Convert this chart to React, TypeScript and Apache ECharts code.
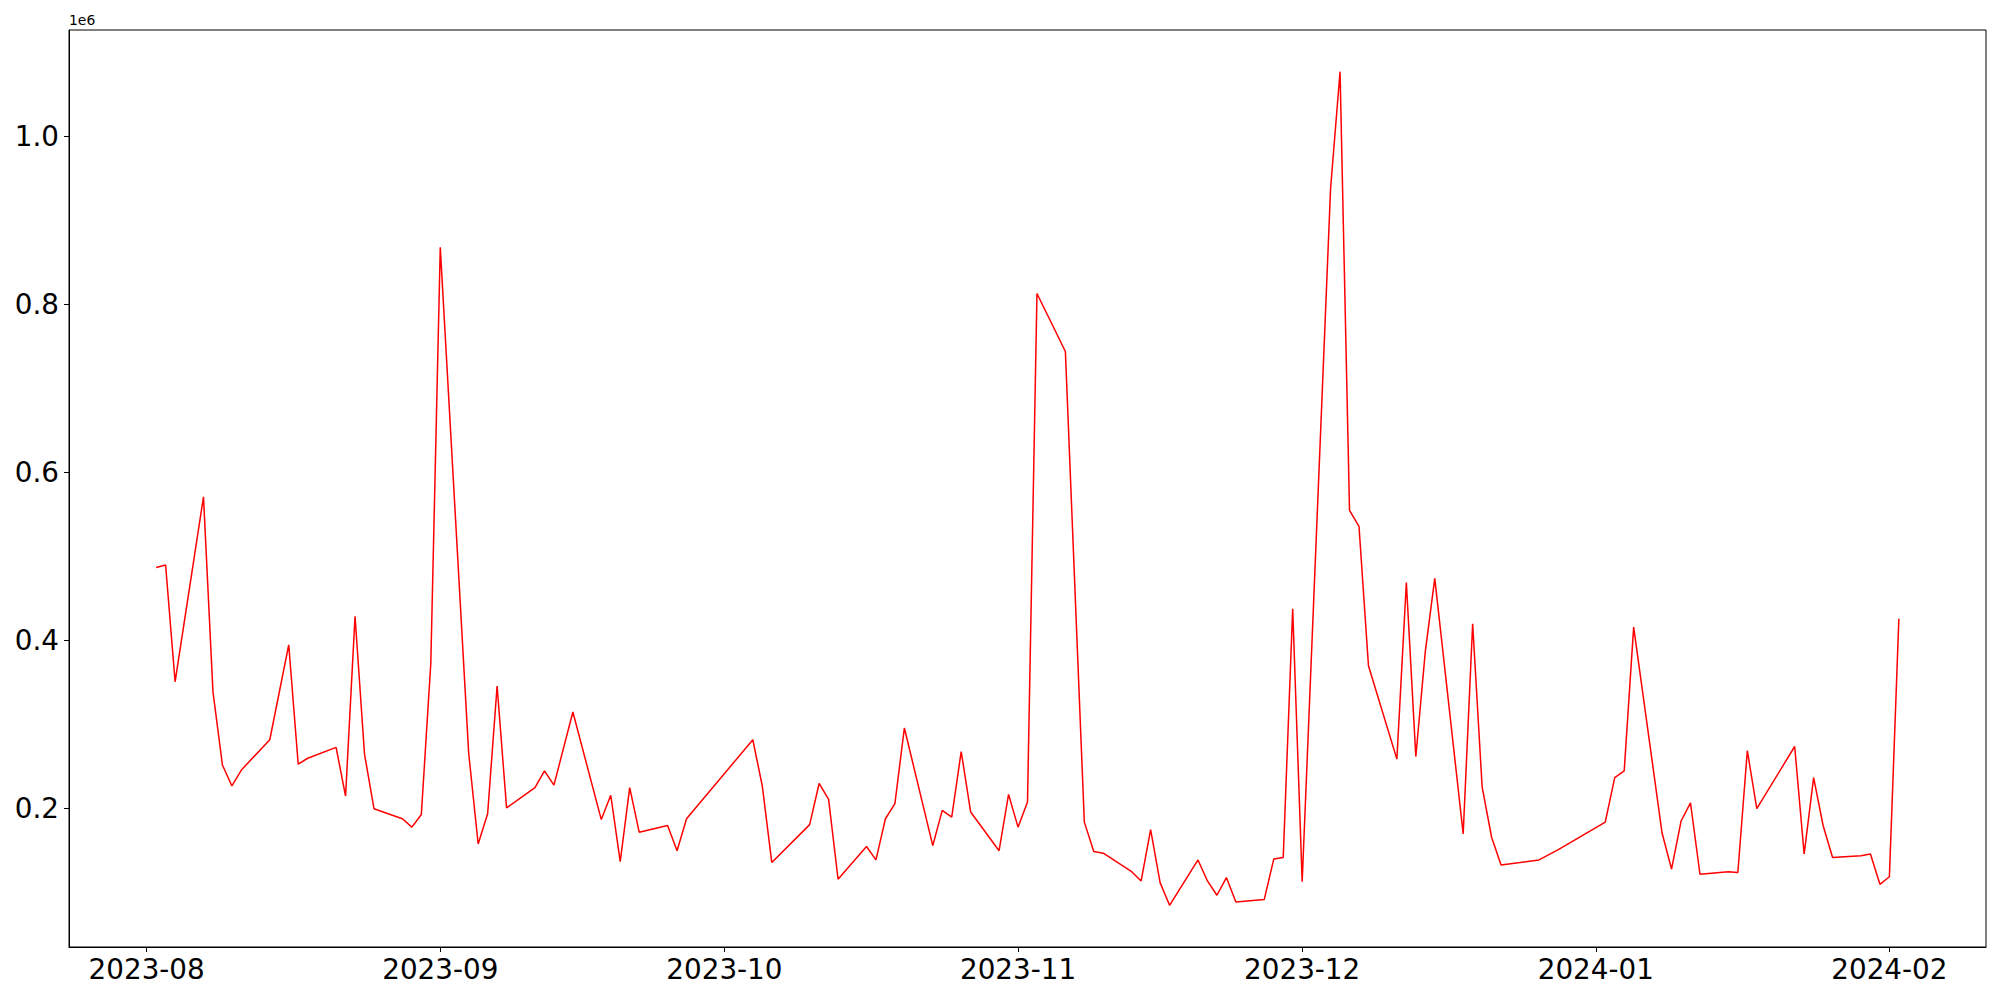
import React, { useEffect, useRef } from "react";
import * as echarts from "echarts";

// Trading dates (YYYY-MM-DD)
const dates = [
  "2023-08-02", "2023-08-03", "2023-08-04", "2023-08-07", "2023-08-08", "2023-08-09", "2023-08-10", "2023-08-11",
  "2023-08-14", "2023-08-16", "2023-08-17", "2023-08-18", "2023-08-21", "2023-08-22", "2023-08-23", "2023-08-24",
  "2023-08-25", "2023-08-28", "2023-08-29", "2023-08-30", "2023-08-31", "2023-09-01", "2023-09-04", "2023-09-05",
  "2023-09-06", "2023-09-07", "2023-09-08", "2023-09-11", "2023-09-12", "2023-09-13", "2023-09-15", "2023-09-18",
  "2023-09-19", "2023-09-20", "2023-09-21", "2023-09-22", "2023-09-25", "2023-09-26", "2023-09-27", "2023-10-04",
  "2023-10-05", "2023-10-06", "2023-10-10", "2023-10-11", "2023-10-12", "2023-10-13", "2023-10-16", "2023-10-17",
  "2023-10-18", "2023-10-19", "2023-10-20", "2023-10-23", "2023-10-24", "2023-10-25", "2023-10-26", "2023-10-27",
  "2023-10-30", "2023-10-31", "2023-11-01", "2023-11-02", "2023-11-03", "2023-11-06", "2023-11-08", "2023-11-09",
  "2023-11-10", "2023-11-13", "2023-11-14", "2023-11-15", "2023-11-16", "2023-11-17", "2023-11-20", "2023-11-21",
  "2023-11-22", "2023-11-23", "2023-11-24", "2023-11-27", "2023-11-28", "2023-11-29", "2023-11-30", "2023-12-01",
  "2023-12-04", "2023-12-05", "2023-12-06", "2023-12-07", "2023-12-08", "2023-12-11", "2023-12-12", "2023-12-13",
  "2023-12-14", "2023-12-15", "2023-12-18", "2023-12-19", "2023-12-20", "2023-12-21", "2023-12-22", "2023-12-26",
  "2023-12-28", "2024-01-02", "2024-01-03", "2024-01-04", "2024-01-05", "2024-01-08", "2024-01-09", "2024-01-10",
  "2024-01-11", "2024-01-12", "2024-01-15", "2024-01-16", "2024-01-17", "2024-01-18", "2024-01-22", "2024-01-23",
  "2024-01-24", "2024-01-25", "2024-01-26", "2024-01-29", "2024-01-30", "2024-01-31", "2024-02-01", "2024-02-02",
];

const values = [
  487000, 490000, 351000, 571000, 339000, 252000, 227000, 246000,
  282000, 395000, 253000, 260000, 273000, 215000, 429000, 265000,
  200000, 188000, 178000, 193000, 373000, 868000, 266000, 158000,
  194000, 346000, 201000, 225000, 245000, 228000, 315000, 187000,
  216000, 137000, 225000, 172000, 180000, 150000, 188000, 282000,
  227000, 136000, 181000, 230000, 211000, 116000, 155000, 139000,
  188000, 206000, 296000, 156000, 198000, 190000, 268000, 196000,
  150000, 217000, 178000, 208000, 813000, 744000, 184000, 149000,
  147000, 125000, 114000, 175000, 112000, 85000, 139000, 114000,
  97000, 118000, 89000, 92000, 140000, 142000, 438000, 113000,
  938000, 1077000, 555000, 536000, 370000, 259000, 469000, 262000,
  387000, 474000, 170000, 420000, 226000, 166000, 133000, 139000,
  151000, 184000, 237000, 245000, 416000, 171000, 128000, 185000,
  207000, 122000, 125000, 124000, 269000, 200000, 274000, 146000,
  237000, 180000, 142000, 144000, 146000, 110000, 119000, 426000,
];

const yTicks = [200000, 400000, 600000, 800000, 1000000];
const offsetLabel = "1e6";
const DAY = 86400000;

function toTime(s: string): number {
  const [y, m, d] = s.split("-").map(Number);
  return new Date(y, m - 1, d).getTime();
}

function pad2(n: number): string {
  return n < 10 ? "0" + n : String(n);
}

export default function App() {
  const ref = useRef<HTMLDivElement | null>(null);

  useEffect(() => {
    if (!ref.current) return;
    const chart = echarts.init(ref.current, null, { renderer: "svg" });
    const ts = dates.map(toTime);
    const t0 = Math.min(...ts);
    const t1 = Math.max(...ts);
    const v0 = Math.min(...values);
    const v1 = Math.max(...values);
    const xPad = (t1 - t0) * 0.05;
    const yPad = (v1 - v0) * 0.05;
    const font = "DejaVu Sans";

    chart.setOption({
      animation: false,
      backgroundColor: "#ffffff",
      grid: {
        left: 69,
        right: 14,
        top: 30,
        bottom: 53,
        show: true,
        borderColor: "#000000",
        borderWidth: 1,
        backgroundColor: "transparent",
        containLabel: false,
        outerBoundsMode: "none",
      },
      xAxis: {
        type: "time",
        min: t0 - xPad,
        max: t1 + xPad,
        splitNumber: 6,
        minInterval: 30 * DAY,
        maxInterval: 30 * DAY,
        axisLine: { show: true, lineStyle: { color: "#000000", width: 1 } },
        axisTick: {
          show: true,
          length: 5,
          lineStyle: { color: "#000000", width: 1 },
        },
        axisLabel: {
          show: true,
          margin: 8,
          color: "#000000",
          fontFamily: font,
          fontSize: 27.8,
          showMinLabel: false,
          showMaxLabel: false,
          hideOverlap: false,
          formatter: (value: number) => {
            const d = new Date(value);
            return d.getFullYear() + "-" + pad2(d.getMonth() + 1);
          },
        },
        splitLine: { show: false },
        minorTick: { show: false },
      },
      yAxis: {
        type: "value",
        min: v0 - yPad,
        max: v1 + yPad,
        name: offsetLabel,
        nameLocation: "end",
        nameGap: 3,
        nameTextStyle: {
          color: "#000000",
          fontFamily: font,
          fontSize: 13.9,
          align: "left",
          verticalAlign: "bottom",
        },
        axisLine: { show: true, lineStyle: { color: "#000000", width: 1 } },
        axisTick: {
          show: true,
          length: 5,
          lineStyle: { color: "#000000", width: 1 },
          customValues: yTicks,
        },
        axisLabel: {
          show: true,
          margin: 10,
          color: "#000000",
          fontFamily: font,
          fontSize: 27.8,
          customValues: yTicks,
          formatter: (value: number) => (value / 1e6).toFixed(1),
        },
        splitLine: { show: false },
      },
      series: [
        {
          type: "line",
          data: ts.map((t, i) => [t, values[i]]),
          showSymbol: false,
          symbol: "none",
          silent: true,
          lineStyle: { color: "#ff0000", width: 1.5 },
          itemStyle: { color: "#ff0000" },
        },
      ],
    });

    return () => {
      chart.dispose();
    };
  }, []);

  return (
    <div
      ref={ref}
      style={{ position: "fixed", left: 0, top: 0, width: 2000, height: 1000, background: "#ffffff" }}
    />
  );
}
